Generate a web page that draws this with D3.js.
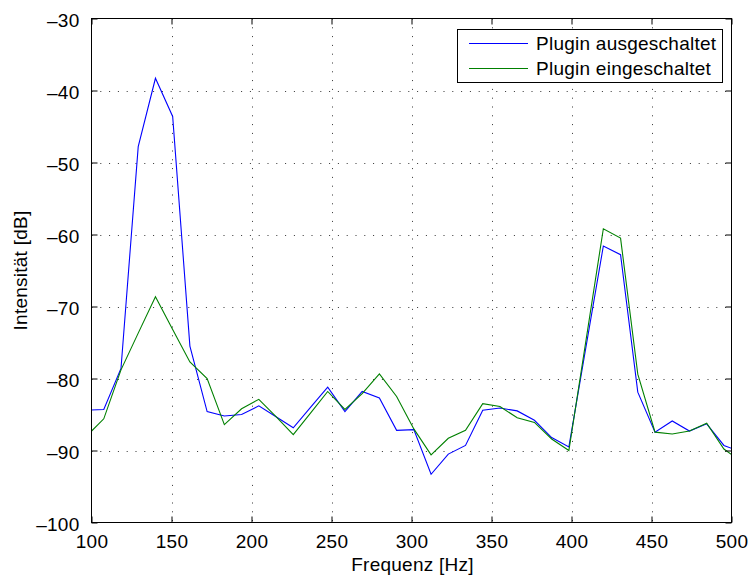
<!DOCTYPE html>
<html>
<head>
<meta charset="utf-8">
<script src="https://cdn.jsdelivr.net/npm/d3@7"></script>
<style>
  html, body { margin: 0; padding: 0; background: #fff; }
  svg { display: block; }
  text { font-family: "Liberation Sans", Arial, Helvetica, sans-serif; fill: #000; letter-spacing: 0.25px; }
</style>
</head>
<body>
<svg id="chart" width="750" height="577"></svg>
<script>
// ---- data ----
const freq = [96.90, 107.67, 118.43, 129.20, 139.97, 150.73, 161.50, 172.27, 183.03, 193.80,
              204.57, 215.33, 226.10, 236.87, 247.63, 258.40, 269.17, 279.93, 290.70, 301.46,
              312.23, 323.00, 333.76, 344.53, 355.30, 366.06, 376.83, 387.60, 398.36, 409.13,
              419.90, 430.66, 441.43, 452.20, 462.96, 473.73, 484.50, 495.26, 506.03];
const pluginOff = [-84.4, -84.3, -78.6, -47.8, -38.3, -43.6, -75.5, -84.6, -85.2, -85.0,
                   -83.8, -85.3, -86.85, -84.0, -81.2, -84.6, -81.8, -82.7, -87.2, -87.1,
                   -93.3, -90.5, -89.3, -84.4, -84.1, -84.5, -85.8, -88.2, -89.5, -75.5,
                   -61.6, -62.8, -81.9, -87.45, -85.9, -87.3, -86.3, -89.3, -90.2];
const pluginOn = [-88.0, -85.6, -78.8, -73.7, -68.65, -73.2, -77.7, -80.0, -86.4, -84.2,
                  -82.9, -85.3, -87.8, -84.8, -81.8, -84.3, -82.1, -79.35, -82.5, -87.0,
                  -90.6, -88.3, -87.2, -83.5, -83.9, -85.45, -86.1, -88.4, -90.0, -74.6,
                  -59.2, -60.5, -79.4, -87.45, -87.7, -87.3, -86.2, -89.8, -91.5];
const seriesNames = ["Plugin ausgeschaltet", "Plugin eingeschaltet"];
const seriesColors = ["#0000ff", "#008000"];
const xTicks = [100, 150, 200, 250, 300, 350, 400, 450, 500];
const yTicks = [-100, -90, -80, -70, -60, -50, -40, -30];
const xLabel = "Frequenz [Hz]";
const yLabel = "Intensität [dB]";

// ---- layout ----
const FS = 19;
const svg = d3.select("#chart");
const x = d3.scaleLinear().domain([100, 500]).range([91.5, 731.5]);
const y = d3.scaleLinear().domain([-100, -30]).range([522.5, 18.5]);
const [x0, x1] = x.range();
const [y0, y1] = y.range(); // y0 bottom, y1 top

svg.append("rect").attr("x", 0).attr("y", 0).attr("width", 750).attr("height", 577).attr("fill", "#fff");

// clip
svg.append("clipPath").attr("id", "clip")
  .append("rect").attr("x", x0).attr("y", y1).attr("width", x1 - x0).attr("height", y0 - y1);

// grid
const grid = svg.append("g").attr("stroke", "#333").attr("stroke-width", 1).attr("stroke-dasharray", "1,7.8");
grid.selectAll("line.v").data(xTicks.slice(1, -1)).join("line")
  .attr("x1", d => Math.round(x(d)) + 0.5).attr("x2", d => Math.round(x(d)) + 0.5)
  .attr("y1", y1).attr("y2", y0);
grid.selectAll("line.h").data(yTicks.slice(1, -1)).join("line")
  .attr("y1", d => Math.round(y(d)) + 0.5).attr("y2", d => Math.round(y(d)) + 0.5)
  .attr("x1", x0).attr("x2", x1);

// lines
const series = [pluginOff, pluginOn];
const line = d3.line().x((d, i) => x(freq[i])).y(d => y(d));
svg.append("g").attr("clip-path", "url(#clip)")
  .selectAll("path").data(series).join("path")
  .attr("d", d => line(d))
  .attr("fill", "none")
  .attr("stroke", (d, i) => seriesColors[i])
  .attr("stroke-width", 1.1)
  .attr("stroke-linejoin", "miter");

// axes: inward ticks on all four sides, MATLAB style
const tl = 6;
const fmt = d => (d < 0 ? "\u2013" + Math.abs(d) : String(d));
const axB = d3.axisBottom(x).tickValues(xTicks).tickSizeInner(-tl).tickSizeOuter(0).tickFormat(fmt).tickPadding(12);
const axT = d3.axisTop(x).tickValues(xTicks).tickSizeInner(-tl).tickSizeOuter(0).tickFormat("");
const axL = d3.axisLeft(y).tickValues(yTicks).tickSizeInner(-tl).tickSizeOuter(0).tickFormat(fmt).tickPadding(12);
const axR = d3.axisRight(y).tickValues(yTicks).tickSizeInner(-tl).tickSizeOuter(0).tickFormat("");

const gB = svg.append("g").attr("transform", `translate(0,${y0})`).call(axB);
const gT = svg.append("g").attr("transform", `translate(0,${y1})`).call(axT);
const gL = svg.append("g").attr("transform", `translate(${x0},0)`).call(axL);
const gR = svg.append("g").attr("transform", `translate(${x1},0)`).call(axR);
[gB, gT, gL, gR].forEach(g => {
  g.select(".domain").remove();
  g.selectAll("line").attr("stroke", "#000").attr("stroke-width", 1);
  g.selectAll("text").attr("font-size", FS).attr("fill", "#000")
    .style("font-family", "'Liberation Sans', Arial, sans-serif");
});
gB.selectAll("text").attr("dy", "0.71em");
gL.selectAll("text").attr("dy", "0.4em");

// frame
svg.append("rect").attr("x", x0).attr("y", y1).attr("width", x1 - x0).attr("height", y0 - y1)
  .attr("fill", "none").attr("stroke", "#000").attr("stroke-width", 1);

// axis labels
svg.append("text").attr("x", (x0 + x1) / 2 + 1).attr("y", 570.5)
  .attr("text-anchor", "middle").attr("font-size", FS).text(xLabel);
svg.append("text")
  .attr("transform", `translate(27,${(y0 + y1) / 2}) rotate(-90)`)
  .attr("text-anchor", "middle").attr("font-size", FS).text(yLabel);

// legend
const lg = svg.append("g");
lg.append("rect").attr("x", 457.5).attr("y", 29.5).attr("width", 265).attr("height", 53)
  .attr("fill", "#fff").attr("stroke", "#000").attr("stroke-width", 1);
const rows = [43.5, 68.5];
seriesNames.forEach((name, i) => {
  lg.append("line").attr("x1", 469).attr("x2", 528).attr("y1", rows[i]).attr("y2", rows[i])
    .attr("stroke", seriesColors[i]).attr("stroke-width", 1.1);
  lg.append("text").attr("x", 536).attr("y", rows[i] + 6.5).attr("font-size", FS).text(name);
});
</script>
</body>
</html>
